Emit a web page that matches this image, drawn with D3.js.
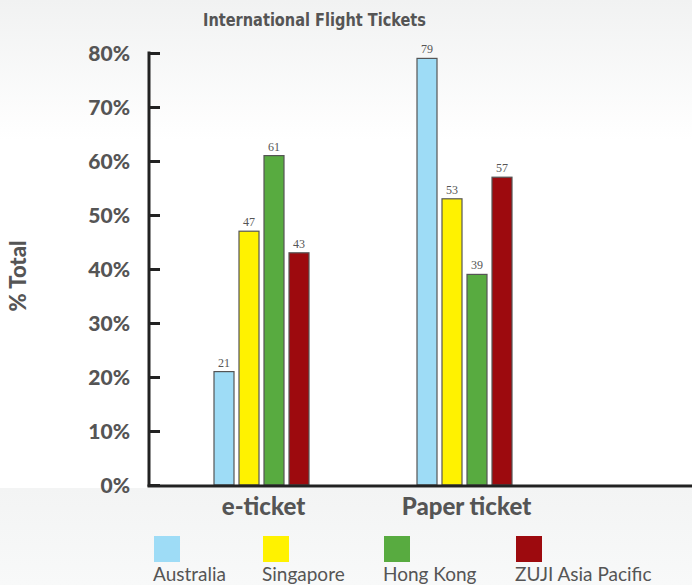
<!DOCTYPE html>
<html>
<head>
<meta charset="utf-8">
<script src="https://cdn.jsdelivr.net/npm/d3@7"></script>
<style>
  html, body { margin: 0; padding: 0; background: #fff; }
  svg { display: block; }
</style>
</head>
<body>
<div id="chart"></div>
<script>
// Survey data: share of international flight tickets by type
const categories = ["e-ticket", "Paper ticket"];
const seriesNames = ["Australia", "Singapore", "Hong Kong", "ZUJI Asia Pacific"];
const australia = [21, 79];
const singapore = [47, 53];
const hongKong = [61, 39];
const zuji = [43, 57];
const seriesValues = [australia, singapore, hongKong, zuji];
const seriesColors = ["#9edcf6", "#fff200", "#58ab40", "#9d0a0e"];
const yTicks = [0, 10, 20, 30, 40, 50, 60, 70, 80];

const W = 692, H = 585;
const svg = d3.select("#chart").append("svg").attr("width", W).attr("height", H);

// Background: soft grey fades at top and below the baseline
const defs = svg.append("defs");
const gTop = defs.append("linearGradient").attr("id", "bgTop").attr("x1", 0).attr("x2", 0).attr("y1", 0).attr("y2", 1);
gTop.append("stop").attr("offset", "0%").attr("stop-color", "#f1f2f2");
gTop.append("stop").attr("offset", "100%").attr("stop-color", "#ffffff");
const gBot = defs.append("linearGradient").attr("id", "bgBot").attr("x1", 0).attr("x2", 0).attr("y1", 0).attr("y2", 1);
gBot.append("stop").attr("offset", "0%").attr("stop-color", "#f3f4f4");
gBot.append("stop").attr("offset", "100%").attr("stop-color", "#f8f9f9");

svg.append("rect").attr("x", 0).attr("y", 0).attr("width", W).attr("height", 140).attr("fill", "url(#bgTop)");
svg.append("rect").attr("x", 0).attr("y", 488).attr("width", W).attr("height", H - 488).attr("fill", "url(#bgBot)");

const axisX = 149, baseY = 485;
const y = d3.scaleLinear().domain([0, 80]).range([baseY, 53]);
const x0 = d3.scaleBand().domain(categories).range([160, 566]);

// Group centers: e-ticket ~261, Paper ticket ~464
const groupCenter = c => x0(c) + x0.bandwidth() / 2;

// Title (condensed bold)
svg.append("text")
  .attr("x", 203).attr("y", 26)
  .attr("font-family", "'DejaVu Sans', sans-serif")
  .attr("font-stretch", "condensed")
  .attr("font-weight", "bold")
  .attr("font-size", 18)
  .attr("textLength", 223)
  .attr("lengthAdjust", "spacingAndGlyphs")
  .attr("fill", "#555")
  .text("International Flight Tickets");

// Y axis label
svg.append("text")
  .attr("transform", "translate(26,276) rotate(-90)")
  .attr("text-anchor", "middle")
  .attr("font-family", "Lato, 'Open Sans', sans-serif")
  .attr("font-weight", "900")
  .attr("font-size", 22)
  .attr("fill", "#555")
  .text("% Total");

// Y axis with inward ticks
const yAxis = d3.axisRight(y).tickValues(yTicks).tickSize(11).tickFormat("");
const gy = svg.append("g").attr("transform", `translate(${axisX},0)`).call(yAxis);
gy.select(".domain").remove();
gy.selectAll(".tick line").attr("stroke", "#222").attr("stroke-width", 3);
svg.append("line").attr("x1", axisX).attr("x2", axisX).attr("y1", 51.5).attr("y2", baseY + 1.5)
  .attr("stroke", "#222").attr("stroke-width", 3);

// Tick labels
svg.append("g").selectAll("text").data(yTicks).join("text")
  .attr("x", 130).attr("y", d => y(d) + 7.5)
  .attr("text-anchor", "end")
  .attr("font-family", "Lato, 'Open Sans', sans-serif")
  .attr("font-weight", "900")
  .attr("font-size", 21)
  .attr("fill", "#555")
  .text(d => d + "%");

// Bars
const barW = 20, step = 25;
const groups = svg.append("g").selectAll("g").data(categories).join("g");
seriesNames.forEach((name, si) => {
  groups.append("rect")
    .attr("x", (c) => groupCenter(c) - 2 * step + si * step + 2.5)
    .attr("y", (c, ci) => y(seriesValues[si][ci]))
    .attr("width", barW)
    .attr("height", (c, ci) => baseY - y(seriesValues[si][ci]))
    .attr("fill", seriesColors[si])
    .attr("stroke", "#555")
    .attr("stroke-width", 1.2);
  groups.append("text")
    .attr("x", (c) => groupCenter(c) - 2 * step + si * step + 2.5 + barW / 2)
    .attr("y", (c, ci) => y(seriesValues[si][ci]) - 5)
    .attr("text-anchor", "middle")
    .attr("font-family", "'Liberation Serif', 'DejaVu Serif', serif")
    .attr("font-size", 12)
    .attr("fill", "#555")
    .text((c, ci) => seriesValues[si][ci]);
});

// Baseline
svg.append("line").attr("x1", axisX - 1.5).attr("x2", W).attr("y1", baseY + 1).attr("y2", baseY + 1)
  .attr("stroke", "#222").attr("stroke-width", 3);

// Category labels
svg.append("g").selectAll("text").data(categories).join("text")
  .attr("x", c => groupCenter(c) + 2)
  .attr("y", 515)
  .attr("text-anchor", "middle")
  .attr("font-family", "Lato, 'Open Sans', sans-serif")
  .attr("font-weight", "900")
  .attr("font-size", 24)
  .attr("fill", "#555")
  .text(c => c);

// Legend
const legendX = [154, 263, 384, 516];
const lg = svg.append("g").selectAll("g").data(seriesNames).join("g")
  .attr("transform", (d, i) => `translate(${legendX[i]},536)`);
lg.append("rect").attr("width", 26).attr("height", 26).attr("fill", (d, i) => seriesColors[i]);
lg.append("text")
  .attr("x", -1).attr("y", 45)
  .attr("font-family", "Lato, sans-serif")
  .attr("font-size", 19)
  .attr("fill", "#555")
  .text(d => d);
</script>
</body>
</html>
